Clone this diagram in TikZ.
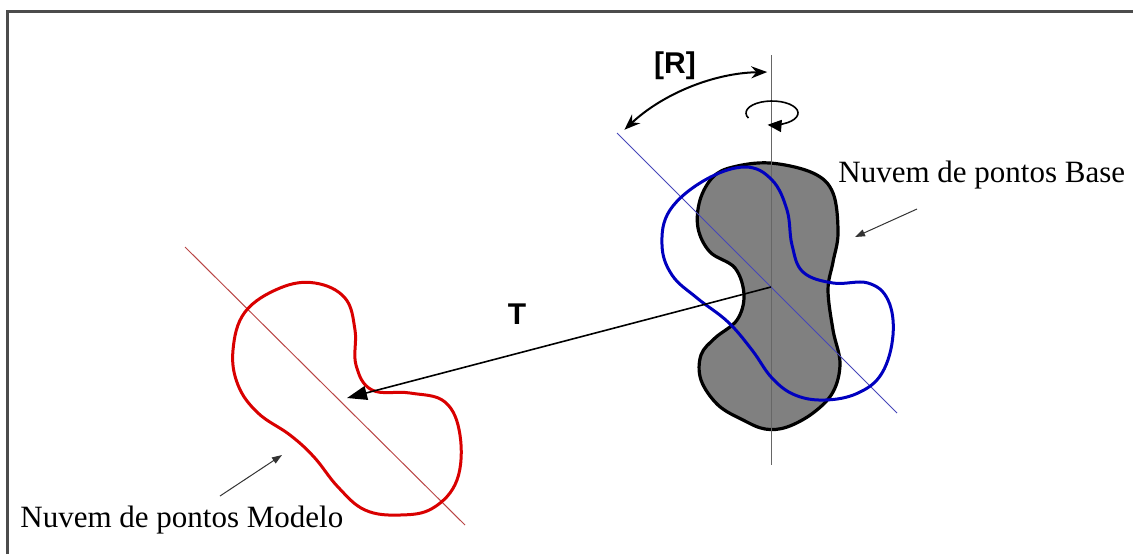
\documentclass[tikz,border=0pt]{standalone}
\usepackage{fontspec}
\setmainfont{Liberation Serif}
\setsansfont{Liberation Sans}
\usetikzlibrary{arrows.meta}

\begin{document}
\begin{tikzpicture}[x=0.5pt, y=-0.5pt, >={Stealth[length=8pt,width=6pt]},
  rotulo/.style={inner sep=0pt, font=\fontsize{15.5}{18}\selectfont},
  letra/.style={inner sep=0pt, font=\fontsize{15}{18}\selectfont\sffamily\bfseries},
  seta/.style={-{Triangle[length=5pt,width=3.5pt]}, line width=0.5pt, black!80},
  eixo/.style={line width=0.5pt},
  nuvem/.style={line width=1.5pt}]
  \useasboundingbox (0,0) rectangle (1133,554);
  % Moldura
  \draw[line width=1.5pt, black!70] (7,554) -- (7,11) -- (1133,11);

  % Centros das nuvens
  \coordinate (cB) at (771,287);
  \coordinate (cM) at (347,398);

  % Nuvem de pontos Base (cinza)
  \filldraw[fill=gray, draw=black, line width=1.6pt] plot[smooth cycle, tension=0.6] coordinates {
    (733,167) (770,163) (813,173) (833,193) (838,233) (833,262) (828,290) (833,330)
    (840,363) (833,392) (813,413) (787,427) (765,429) (743,420) (718,405) (701,380)
    (701,355) (715,338) (737,320) (744,295) (735,268) (710,252) (698,228) (700,200) (713,177)};

  % Eixo vertical
  \draw[eixo, black!60] (771,55) -- (771,465);

  % Eixo girado (azul)
  \draw[eixo, blue!45!gray] (617,133) -- (897,413);

  % Nuvem girada (azul)
  \draw[nuvem, blue!75!black] plot[smooth cycle, tension=0.65] coordinates {
    (705,180) (745,167) (772,180) (787,210) (792,245) (803,272) (833,283) (868,283)
    (888,300) (893,335) (882,373) (858,393) (825,400) (795,395) (772,378) (752,350)
    (728,322) (697,298) (672,275) (662,245) (670,210)};

  % Nuvem de pontos Modelo (vermelha)
  \draw[eixo, red!45!gray] (185,247) -- (465,525);
  \draw[nuvem, red!85!black] plot[smooth cycle, tension=0.65] coordinates {
    (233,350) (245,312) (280,288) (315,283) (345,298) (355,330) (356,365) (372,390)
    (410,393) (445,402) (460,435) (457,480) (433,508) (400,515) (365,510) (338,487)
    (314,457) (290,435) (258,413) (238,385)};

  % Translacao T
  \draw[-{Triangle[length=10pt,width=7pt]}, line width=0.8pt] (cB) -- (cM);
  \node[letra] (T) at (517,314) {T};

  % Rotacao [R]
  \draw[<->, line width=1pt] (cB) ++(-133:215) arc[start angle=-133, end angle=-91, radius=215];
  \node[letra] (R) at (675,66) {[R]};

  % Giro em torno do eixo vertical
  \coordinate (cG) at (772,113);
  \draw[-{Triangle[length=7pt,width=6pt]}, line width=0.8pt] (cG) ++(155:26 and 12)
    arc[start angle=155, end angle=460, x radius=26, y radius=12];

  % Rotulos
  \node[rotulo, anchor=base west] (base) at (838,182) {Nuvem de pontos Base};
  \node[rotulo, anchor=base west] (modelo) at (20,527) {Nuvem de pontos Modelo};
  \coordinate (qB) at (917,209);
  \coordinate (pB) at (855,237);
  \coordinate (qM) at (220,496);
  \coordinate (pM) at (282,455);
  \draw[seta] (qB) -- (pB);
  \draw[seta] (qM) -- (pM);
\end{tikzpicture}
\end{document}
